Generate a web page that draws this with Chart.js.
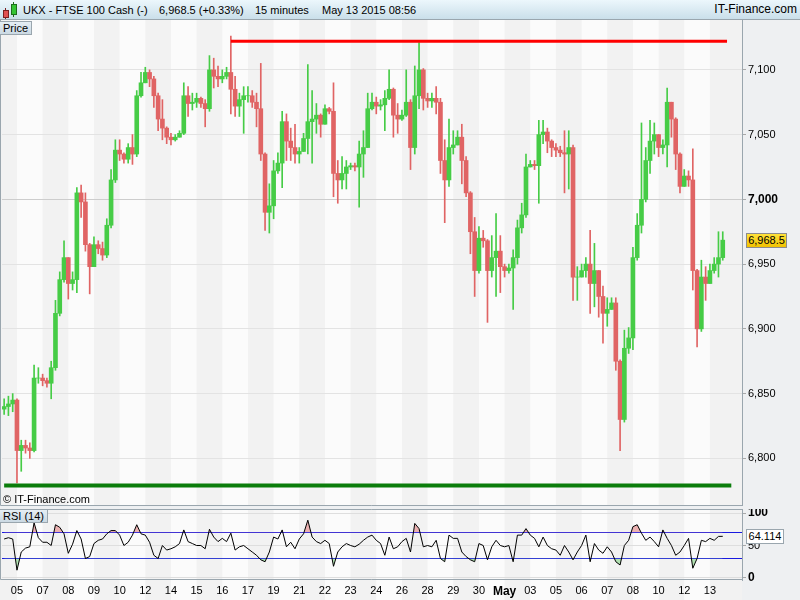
<!DOCTYPE html>
<html>
<head>
<meta charset="utf-8">
<script src="https://cdn.jsdelivr.net/npm/chart.js@4.4.1/dist/chart.umd.min.js"></script>
<style>
  body { margin: 0; width: 800px; height: 600px; position: relative; overflow: hidden;
         background: #eef0f2; font-family: Arial, "Liberation Sans", sans-serif; color: #000; }
  #head { position: absolute; left: 0; top: 0; width: 800px; height: 19px;
          border-bottom: 1px solid #9aa6ae; background: linear-gradient(#ecf7fc, #cadfea); font-size: 11px; }
  #head span { position: absolute; top: 4px; white-space: nowrap; line-height: 13px; }
  .ic { position: absolute; }
  #main { position: absolute; left: 0; top: 20px; width: 800px; height: 486px; }
  #rsi { position: absolute; left: 0; top: 509px; width: 800px; height: 91px; }
  .tag { position: absolute; left: 0; font-size: 11px; line-height: 12px; padding: 0 3px;
         background: linear-gradient(#e6eef4, #cbd9e3); border: 1px solid #9aa6ae; border-left: none; }
  .box { position: absolute; font-size: 11px; line-height: 13px; text-align: center; }
  #copy { position: absolute; left: 3px; top: 493px; font-size: 11px; }
</style>
</head>
<body>
<div id="head">
  <div class="ic" style="left:5px;top:8px;width:1px;height:11px;background:#7a2020"></div>
  <div class="ic" style="left:3px;top:10px;width:4px;height:6px;background:#e05050;border:1px solid #7a2020"></div>
  <div class="ic" style="left:13px;top:2px;width:1px;height:15px;background:#1d6e1d"></div>
  <div class="ic" style="left:11px;top:4px;width:4px;height:9px;background:#34c434;border:1px solid #1d6e1d"></div>
  <span style="left:23px">UKX - FTSE 100 Cash (-)</span>
  <span style="left:159px">6,968.5 (+0.33%)</span>
  <span style="left:255px">15 minutes</span>
  <span style="left:322px">May 13 2015 08:56</span>
  <span style="right:3px;font-size:12px;top:3px">IT-Finance.com</span>
</div>
<div id="main"><canvas id="priceChart"></canvas></div>
<div id="rsi"><canvas id="rsiChart"></canvas></div>
<div class="tag" style="top:21px">Price</div>
<div class="tag" style="top:509px">RSI (14)</div>
<div id="copy">© IT-Finance.com</div>
<div id="lastPrice" class="box" style="left:746px;width:39px;height:13px;background:linear-gradient(#ffe23a,#f2c200);border:1px solid #8c8c8c"></div>
<div id="lastRsi" class="box" style="left:746px;width:36px;height:13px;background:#fff;border:1px solid #9aa6ae"></div>
<script>
// Day labels along the time axis (each day = 6 resampled 15-minute columns)
const dayLabels = ["05", "07", "08", "09", "10", "12", "14", "15", "16", "17", "19", "21", "22", "23",
  "24", "26", "28", "29", "30", "May", "03", "05", "06", "07", "08", "10", "12", "13"];
const dayStartCol = [3, 9, 15, 21, 27, 33, 39, 45, 51, 57, 63, 69, 75, 81,
  87, 93, 99, 105, 111, 117, 123, 129, 135, 141, 147, 153, 159, 165];
const totalCols = 173; // includes empty space right of the last candle

// Price series
const firstOpen = 6838;
const closes = [
  6840, 6842, 6845, 6806, 6810, 6808, 6806, 6862, 6862, 6860,
  6858, 6870, 6912, 6938, 6955, 6935, 6938, 7005, 6998, 6965,
  6948, 6965, 6962, 6957, 6980, 7015, 7038, 7035, 7031, 7040,
  7035, 7080, 7090, 7098, 7093, 7080, 7062, 7055, 7048, 7046,
  7048, 7051, 7080, 7074, 7075, 7078, 7074, 7070, 7100, 7095,
  7093, 7095, 7098, 7085, 7072, 7077, 7080, 7080, 7075, 7070,
  7035, 6990, 6995, 7022, 7028, 7060, 7045, 7040, 7035, 7037,
  7047, 7060, 7062, 7065, 7058, 7070, 7068, 7020, 7015, 7020,
  7025, 7026, 7025, 7035, 7040, 7070, 7075, 7072, 7073, 7078,
  7085, 7065, 7062, 7065, 7075, 7040, 7080, 7100, 7078, 7076,
  7078, 7075, 7030, 7015, 7040, 7042, 7048, 7030, 7005, 6975,
  6945, 6970, 6968, 6945, 6955, 6960, 6948, 6945, 6947, 6955,
  6978, 6988, 7025, 7027, 7026, 7050, 7052, 7045, 7040, 7038,
  7036, 7035, 7040, 6940, 6940, 6945, 6950, 6935, 6945, 6925,
  6912, 6915, 6920, 6875, 6830, 6885, 6893, 6955, 6980, 7000,
  7030, 7045, 7050, 7040, 7042, 7075, 7062, 7035, 7010, 7018,
  7015, 6945, 6900, 6940, 6935, 6945, 6950, 6955, 6968.5
];
const highs = [
  6846, 6848, 6850, 6846, 6814, 6814, 6812, 6872, 6870, 6865,
  6862, 6875, 6922, 6944, 6968, 6955, 6944, 7009, 7011, 7005,
  6966, 6971, 6968, 6967, 6985, 7023, 7046, 7046, 7036, 7043,
  7050, 7084, 7098, 7102, 7100, 7095, 7082, 7077, 7056, 7051,
  7050, 7053, 7090, 7087, 7082, 7082, 7079, 7077, 7111, 7109,
  7103, 7100, 7102, 7126, 7095, 7082, 7087, 7087, 7084, 7082,
  7105, 7036, 7012, 7030, 7036, 7068, 7066, 7055, 7058, 7040,
  7051, 7104, 7084, 7074, 7066, 7073, 7071, 7090, 7030, 7033,
  7030, 7028, 7028, 7045, 7053, 7082, 7082, 7079, 7077, 7084,
  7100, 7086, 7074, 7069, 7100, 7077, 7103, 7121, 7101, 7082,
  7082, 7087, 7078, 7046, 7062, 7053, 7053, 7058, 7033, 7006,
  6986, 6979, 6976, 6969, 6972, 6989, 6972, 6950, 6950, 6961,
  6984, 6997, 7035, 7030, 7030, 7061, 7061, 7055, 7046, 7043,
  7041, 7053, 7053, 7042, 6948, 6950, 6955, 6976, 6966, 6945,
  6933, 6924, 6924, 6924, 6876, 6899, 6901, 6963, 6989, 7059,
  7040, 7061, 7059, 7048, 7046, 7086, 7074, 7063, 7036, 7023,
  7022, 7039, 6946, 6953, 6948, 6950, 6955, 6975, 6975
];
const lows = [
  6834, 6833, 6836, 6781, 6790, 6804, 6800, 6805, 6858, 6856,
  6855, 6846, 6868, 6910, 6936, 6923, 6930, 6928, 6986, 6960,
  6927, 6948, 6958, 6953, 6955, 6978, 7013, 7030, 7028, 7028,
  7027, 7033, 7079, 7090, 7087, 7071, 7053, 7046, 7043, 7042,
  7045, 7048, 7050, 7064, 7069, 7071, 7071, 7056, 7068, 7086,
  7087, 7090, 7093, 7066, 7064, 7064, 7051, 7075, 7071, 7056,
  7030, 6976, 6974, 6985, 7020, 7009, 7030, 7030, 7028, 7028,
  7037, 7035, 7028, 7051, 7048, 7058, 7066, 7002, 6997, 7008,
  7008, 7023, 7022, 6994, 7017, 7040, 7069, 7066, 7069, 7053,
  7077, 7048, 7051, 7061, 7064, 7023, 7035, 7070, 7069, 7071,
  7071, 7066, 7020, 6982, 7010, 7035, 7043, 7012, 7002, 6958,
  6925, 6943, 6963, 6905, 6940, 6925, 6928, 6940, 6943, 6915,
  6950, 6974, 6986, 7025, 7023, 6997, 7043, 7036, 7033, 7033,
  7033, 7005, 7008, 6922, 6922, 6940, 6940, 6912, 6917, 6909,
  6889, 6902, 6917, 6868, 6806, 6828, 6881, 6884, 6953, 6974,
  6998, 7020, 7035, 7033, 7035, 7025, 7048, 7023, 7005, 7010,
  7010, 6930, 6886, 6898, 6922, 6937, 6943, 6940, 6953
];

// RSI (14) series
const rsiValues = [
  60, 62, 60, 12, 40, 46, 48, 85, 62, 55,
  55, 50, 82, 78, 68, 38, 52, 73, 60, 30,
  33, 53, 58, 60, 68, 73, 73, 66, 50, 55,
  66, 82, 68, 66, 55, 35, 30, 50, 43, 45,
  48, 53, 74, 56, 53, 50, 50, 45, 75, 63,
  56, 61, 56, 69, 43, 48, 50, 45, 40, 35,
  28, 25, 40, 63, 60, 74, 48, 55, 45, 60,
  68, 89, 63, 56, 53, 58, 53, 18, 40, 48,
  53, 50, 48, 52, 58, 63, 66, 58, 53, 35,
  63, 45, 48, 56, 61, 40, 84, 76, 48, 50,
  48, 58, 30, 25, 66, 61, 61, 40, 33, 28,
  25, 53, 50, 28, 48, 58, 50, 48, 50, 25,
  66, 66, 76, 66, 61, 48, 63, 50, 45, 43,
  35, 50, 40, 28, 40, 50, 66, 25, 53, 43,
  38, 48, 40, 25, 20, 50, 58, 79, 82, 69,
  58, 63, 56, 48, 74, 61, 50, 35, 40, 50,
  61, 15, 30, 58, 56, 61, 58, 64, 64.114
];

// Horizontal levels drawn on the price panel
const resistanceLevel = 7122;
const resistanceSpan = [53, 169];
const supportLevel = 6779;
const supportSpan = [0, 170];

const priceTicks = [6800, 6850, 6900, 6950, 7000, 7050, 7100];
const rsiTicks = [0, 30, 50, 70, 100];
const rsiLabelled = [0, 50, 100];

// Colors
const UP = "#46cc46";
const DOWN = "#e06464";
const WHITE_BAND = "#fbfbfb";
const GREY_BAND = "#f2f2f2";
const FRAME = "#9aa6ae";

Chart.defaults.font.family = 'Arial, "Liberation Sans", sans-serif';
Chart.defaults.font.size = 11;
Chart.defaults.color = "#000";

// Category labels: one per column, text only where a day starts
const colLabels = new Array(totalCols).fill("");
dayStartCol.forEach((col, k) => { colLabels[col] = dayLabels[k]; });

const opens = closes.map((c, i) => (i === 0 ? firstOpen : closes[i - 1]));
const bodies = closes.map((c, i) => [opens[i], c]);
const wicks = closes.map((c, i) => [Math.min(lows[i], opens[i], c), Math.max(highs[i], opens[i], c)]);
const candleColors = closes.map((c, i) => (c >= opens[i] ? UP : DOWN));

function levelLine(value, span) {
  const arr = new Array(totalCols).fill(null);
  arr[span[0]] = value;
  arr[span[1]] = value;
  return arr;
}

// Alternating day bands behind both panels
function stripesPlugin(toCanvasBottom) {
  return {
    id: "stripes",
    beforeDraw(chart) {
      const { ctx, chartArea } = chart;
      const x = chart.scales.x;
      const bottom = toCanvasBottom ? chart.height : chartArea.bottom;
      ctx.save();
      ctx.fillStyle = WHITE_BAND;
      ctx.fillRect(0, 0, chartArea.right, bottom);
      ctx.fillStyle = GREY_BAND;
      ctx.fillRect(0, 0, x.getPixelForValue(dayStartCol[0]), bottom);
      dayStartCol.forEach((col, k) => {
        if (k % 2 === 0) return;
        const x0 = x.getPixelForValue(col);
        const x1 = k + 1 < dayStartCol.length ? x.getPixelForValue(dayStartCol[k + 1]) : chartArea.right;
        ctx.fillRect(x0, 0, x1 - x0, bottom);
      });
      ctx.restore();
    }
  };
}

// Panel frame (left and bottom edges; the axis border draws the right edge)
function framePlugin(withTop) {
  return {
    id: "frame",
    afterDraw(chart) {
      const { ctx, chartArea } = chart;
      ctx.save();
      ctx.strokeStyle = FRAME;
      ctx.lineWidth = 1;
      ctx.beginPath();
      if (withTop) {
        ctx.moveTo(chartArea.right, 0.5);
        ctx.lineTo(0.5, 0.5);
      } else {
        ctx.moveTo(0.5, 0);
      }
      ctx.lineTo(0.5, chartArea.bottom - 0.5);
      ctx.lineTo(chartArea.right, chartArea.bottom - 0.5);
      ctx.stroke();
      ctx.restore();
    }
  };
}

function fixAxisWidth(scale) {
  scale.width = 58;
  scale.paddingTop = 0;
  scale.paddingBottom = 0;
}

const priceChart = new Chart(document.getElementById("priceChart"), {
  type: "bar",
  data: {
    labels: colLabels,
    datasets: [
      {
        data: wicks,
        backgroundColor: candleColors,
        barThickness: 1,
        grouped: false,
        order: 3
      },
      {
        data: bodies,
        backgroundColor: candleColors,
        barThickness: 4,
        grouped: false,
        order: 2
      },
      {
        type: "line",
        data: levelLine(resistanceLevel, resistanceSpan),
        borderColor: "#ff0000",
        borderWidth: 3,
        pointRadius: 0,
        spanGaps: true,
        order: 1
      },
      {
        type: "line",
        data: levelLine(supportLevel, supportSpan),
        borderColor: "#0b7d0b",
        borderWidth: 4,
        pointRadius: 0,
        spanGaps: true,
        order: 1
      }
    ]
  },
  options: {
    responsive: true,
    maintainAspectRatio: false,
    animation: false,
    layout: { padding: { left: 2, right: 0, top: 0, bottom: 0 } },
    plugins: { legend: { display: false }, tooltip: { enabled: false } },
    scales: {
      x: { type: "category", display: false, offset: true },
      y: {
        position: "right",
        min: 6763.2,
        max: 7138.5,
        afterBuildTicks: (s) => { s.ticks = priceTicks.map((v) => ({ value: v })); },
        afterFit: fixAxisWidth,
        ticks: {
          padding: 2,
          color: "#000",
          callback: (v) => v.toLocaleString("en-US"),
          font: (ctx) => (ctx.tick && ctx.tick.value === 7000 ? { size: 12, weight: "bold" } : { size: 11 })
        },
        grid: {
          color: (ctx) => (ctx.tick && ctx.tick.value === 7000 ? "#cdcdcd" : "#e3e3e3"),
          tickColor: "#a8a8a8",
          tickLength: 4
        },
        border: { color: FRAME }
      }
    }
  },
  plugins: [stripesPlugin(false), framePlugin(false)]
});

const rsiChart = new Chart(document.getElementById("rsiChart"), {
  type: "line",
  data: {
    labels: colLabels,
    datasets: [
      {
        data: rsiValues,
        borderColor: "#000",
        borderWidth: 1,
        pointRadius: 0,
        tension: 0,
        fill: { target: { value: 70 }, above: "rgba(232,160,160,0.8)", below: "rgba(0,0,0,0)" }
      },
      {
        data: rsiValues,
        borderWidth: 0,
        pointRadius: 0,
        tension: 0,
        fill: { target: { value: 30 }, above: "rgba(0,0,0,0)", below: "rgba(160,220,160,0.8)" }
      }
    ]
  },
  options: {
    responsive: true,
    maintainAspectRatio: false,
    animation: false,
    layout: { padding: { left: 2, right: 0, top: 0, bottom: 0 } },
    plugins: { legend: { display: false }, tooltip: { enabled: false } },
    scales: {
      x: {
        type: "category",
        offset: true,
        grid: { display: false, drawTicks: false },
        border: { display: false },
        afterFit: (s) => { s.height = 20; s.paddingLeft = 0; s.paddingRight = 0; },
        ticks: {
          autoSkip: false,
          maxRotation: 0,
          minRotation: 0,
          padding: 4,
          color: "#000",
          callback: function (v) { return this.getLabelForValue(v); },
          font: (ctx) => (ctx.tick && ctx.tick.label === "May" ? { size: 12, weight: "bold" } : { size: 11 })
        }
      },
      y: {
        position: "right",
        min: -3.1,
        max: 106.2,
        afterBuildTicks: (s) => { s.ticks = rsiTicks.map((v) => ({ value: v })); },
        afterFit: fixAxisWidth,
        ticks: {
          padding: 2,
          color: "#000",
          callback: (v) => (rsiLabelled.includes(v) ? String(v) : ""),
          font: (ctx) => (ctx.tick && ctx.tick.value !== 50 ? { size: 12, weight: "bold" } : { size: 11 })
        },
        grid: {
          color: (ctx) => (ctx.tick && (ctx.tick.value === 30 || ctx.tick.value === 70) ? "#1a1ae0" : "#dedede"),
          tickColor: (ctx) => (ctx.tick && (ctx.tick.value === 30 || ctx.tick.value === 70) ? "rgba(0,0,0,0)" : "#a8a8a8"),
          tickLength: 4
        },
        border: { color: FRAME }
      }
    }
  },
  plugins: [stripesPlugin(true), framePlugin(true)]
});

// Last-value boxes on the right axes
const lastClose = closes[closes.length - 1];
const priceBox = document.getElementById("lastPrice");
priceBox.textContent = lastClose.toLocaleString("en-US", { minimumFractionDigits: 1 });
priceBox.style.top = (20 + priceChart.scales.y.getPixelForValue(lastClose) - 7.5) + "px";

const lastRsi = rsiValues[rsiValues.length - 1];
const rsiBox = document.getElementById("lastRsi");
rsiBox.textContent = lastRsi.toFixed(3);
rsiBox.style.top = (509 + rsiChart.scales.y.getPixelForValue(lastRsi) - 7.5) + "px";
</script>
</body>
</html>
